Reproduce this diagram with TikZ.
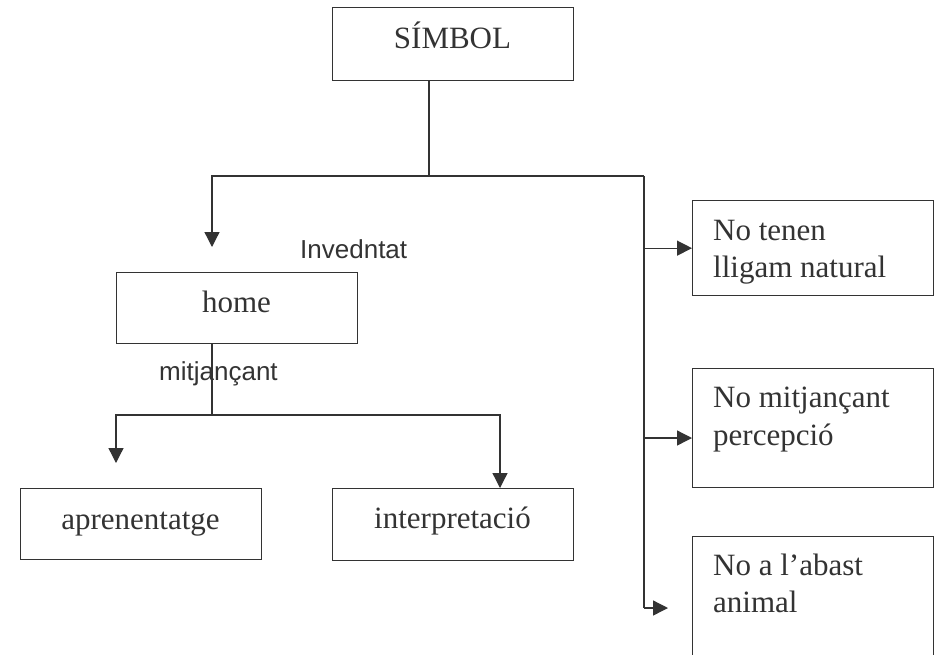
\documentclass[tikz,border=0pt]{standalone}
\usepackage{fontspec}
\setmainfont{Liberation Serif}
\newfontfamily\labelsans{Liberation Sans}
\usetikzlibrary{arrows.meta,calc}
\begin{document}
\begin{tikzpicture}[x=1pt,y=-1pt,
  line/.style={draw=black!80, line width=1.3pt},
  arr/.style={line, -{Triangle[length=15pt,width=15pt]}},
  box/.style={line, rectangle, inner sep=0pt, anchor=north west},
  serif/.style={font=\fontsize{31}{37}\selectfont, text=black!80, inner sep=0pt},
  sans/.style={font=\labelsans\fontsize{26}{30}\selectfont, text=black!80, inner sep=0pt, anchor=base west}]
\clip (0,0) rectangle (939,654);
\fill[white] (0,0) rectangle (939,654);
% boxes
\node[box, minimum width=241pt, minimum height=73pt] (simbol) at (332,7) {};
\node[box, minimum width=241pt, minimum height=71pt] (home) at (116,272) {};
\node[box, minimum width=241pt, minimum height=71pt] (apren) at (20,488) {};
\node[box, minimum width=241pt, minimum height=72pt] (interp) at (332,488) {};
\node[box, minimum width=241pt, minimum height=95pt] (b1) at (692,200) {};
\node[box, minimum width=241pt, minimum height=119pt] (b2) at (692,368) {};
\node[box, minimum width=241pt, minimum height=140pt] (b3) at (692,536) {};
% texts
\node[serif, anchor=base] (tsimbol) at (452.5,48) {SÍMBOL};
\node[serif, anchor=base] (thome) at (236.5,312) {home};
\node[serif, anchor=base] (tapren) at (140.5,529) {aprenentatge};
\node[serif, anchor=base] (tinterp) at (452.5,528) {interpretació};
\node[serif, anchor=base west] (t1a) at (713,240) {No tenen};
\node[serif, anchor=base west] (t1b) at (713,277) {lligam natural};
\node[serif, anchor=base west] (t2a) at (713,407) {No mitjançant};
\node[serif, anchor=base west] (t2b) at (713,445) {percepció};
\node[serif, anchor=base west] (t3a) at (713,575) {No a l’abast};
\node[serif, anchor=base west] (t3b) at (713,612) {animal};
\node[sans] (linv) at (300,258) {Invedntat};
\node[sans] (lmit) at (159,380) {mitjançant};
% junctions
\coordinate (j1) at (429,176);
\coordinate (jl) at (212,176);
\coordinate (jr) at (644,176);
\coordinate (hometip) at (212,247);
\coordinate (jb) at (644,608);
\coordinate (b3tip) at (668,608);
\coordinate (j2) at (212,415);
\coordinate (j2l) at (116,415);
\coordinate (j2r) at (500,415);
\coordinate (apentip) at (116,463);
% connectors
\draw[line] (simbol.south -| j1) -- (j1);
\draw[arr] (jr) -- (jl) -- (hometip);
\draw[line] (jr) -- (jb);
\draw[arr] (jb) -- (b3tip);
\draw[arr] (b1.west -| jr) -- (b1.west);
\draw[arr] (644,438) -- (b2.west |- 0,438);
\draw[line] (home.south -| j2) -- (j2);
\draw[arr] (j2) -- (j2l) -- (apentip);
\draw[arr] (j2) -- (j2r) -- (interp.north -| j2r);
\end{tikzpicture}
\end{document}
